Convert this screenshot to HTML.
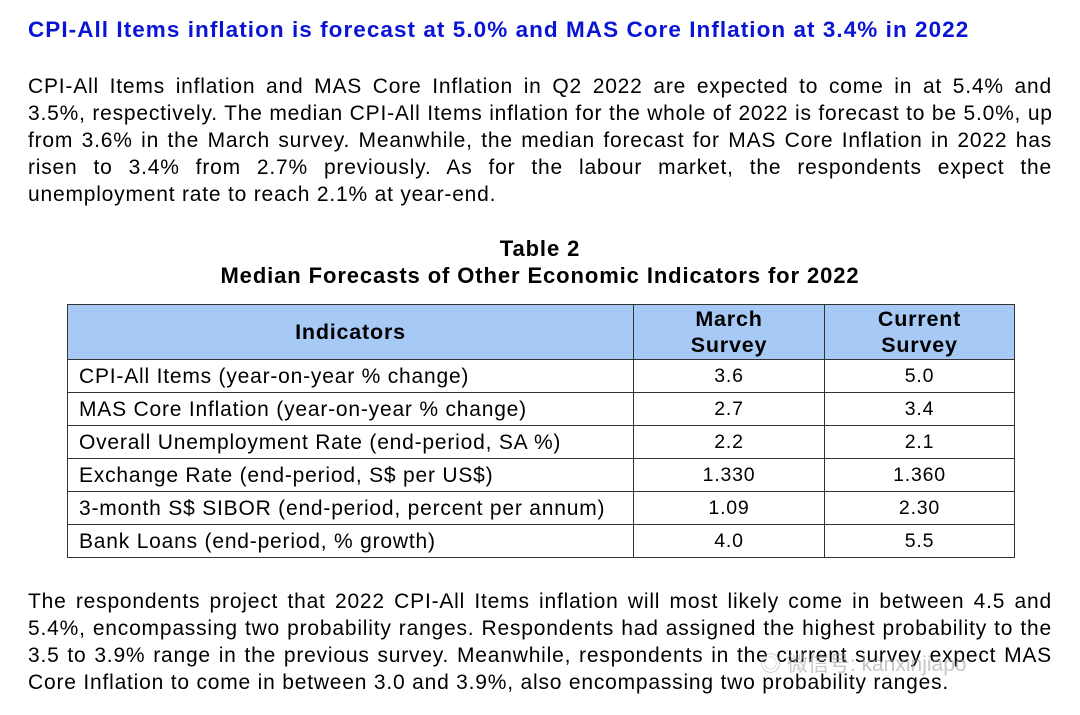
<!DOCTYPE html>
<html><head><meta charset="utf-8"><style>
body{margin:0;width:1080px;height:715px;background:#fff;font-family:"Liberation Sans","DejaVu Sans",sans-serif;color:#000;position:relative;overflow:hidden}
.t{position:absolute;left:28px;top:17px;font-size:22.5px;font-weight:bold;color:#0a14d6;white-space:nowrap;letter-spacing:1.05px}
.p{position:absolute;left:28px;width:1024px;font-size:21px;line-height:27px;letter-spacing:0.8px}
.p div{text-align:justify;text-align-last:justify;white-space:nowrap;height:27px}
.p div.l{text-align-last:left}
.cap{position:absolute;left:0;width:1080px;text-align:center;font-weight:bold;font-size:22px;letter-spacing:0.9px}
table{position:absolute;left:67px;top:304px;width:948px;border-collapse:collapse;font-size:21px;letter-spacing:0.8px}
td,th{border:1.5px solid #333;padding:0}
th{background:#a7c9f6;font-weight:bold;font-size:21.5px;height:54px;line-height:26px}
td{height:31px;line-height:31px;padding:1px 0 0 0}
td.n{text-align:center;font-size:19.5px}
td.i{padding-left:11px}
.wm{position:absolute;left:760px;top:648px;font-size:21px;color:rgba(160,160,160,0.6);font-family:"Liberation Sans","Noto Sans CJK SC",sans-serif}
</style></head><body>
<div class="t">CPI-All Items inflation is forecast at 5.0% and MAS Core Inflation at 3.4% in 2022</div>
<div class="p" style="top:73px">
<div>CPI-All Items inflation and MAS Core Inflation in Q2 2022 are expected to come in at 5.4% and</div>
<div>3.5%, respectively. The median CPI-All Items inflation for the whole of 2022 is forecast to be 5.0%, up</div>
<div>from 3.6% in the March survey. Meanwhile, the median forecast for MAS Core Inflation in 2022 has</div>
<div>risen to 3.4% from 2.7% previously. As for the labour market, the respondents expect the</div>
<div class="l">unemployment rate to reach 2.1% at year-end.</div>
</div>
<div class="cap" style="top:236px;left:0">Table 2</div>
<div class="cap" style="top:263px">Median Forecasts of Other Economic Indicators for 2022</div>
<table>
<tr><th style="width:565px">Indicators</th><th style="width:190px">March<br>Survey</th><th>Current<br>Survey</th></tr>
<tr><td class="i">CPI-All Items (year-on-year % change)</td><td class="n">3.6</td><td class="n">5.0</td></tr>
<tr><td class="i">MAS Core Inflation (year-on-year % change)</td><td class="n">2.7</td><td class="n">3.4</td></tr>
<tr><td class="i">Overall Unemployment Rate (end-period, SA %)</td><td class="n">2.2</td><td class="n">2.1</td></tr>
<tr><td class="i">Exchange Rate (end-period, S$ per US$)</td><td class="n">1.330</td><td class="n">1.360</td></tr>
<tr><td class="i">3-month S$ SIBOR (end-period, percent per annum)</td><td class="n">1.09</td><td class="n">2.30</td></tr>
<tr><td class="i">Bank Loans (end-period, % growth)</td><td class="n">4.0</td><td class="n">5.5</td></tr>
</table>
<div class="p" style="top:588px">
<div>The respondents project that 2022 CPI-All Items inflation will most likely come in between 4.5 and</div>
<div>5.4%, encompassing two probability ranges. Respondents had assigned the highest probability to the</div>
<div>3.5 to 3.9% range in the previous survey. Meanwhile, respondents in the current survey expect MAS</div>
<div class="l">Core Inflation to come in between 3.0 and 3.9%, also encompassing two probability ranges.</div>
</div>
<div class="wm">◎ 微信号: kanxinjiapo</div>
</body></html>
